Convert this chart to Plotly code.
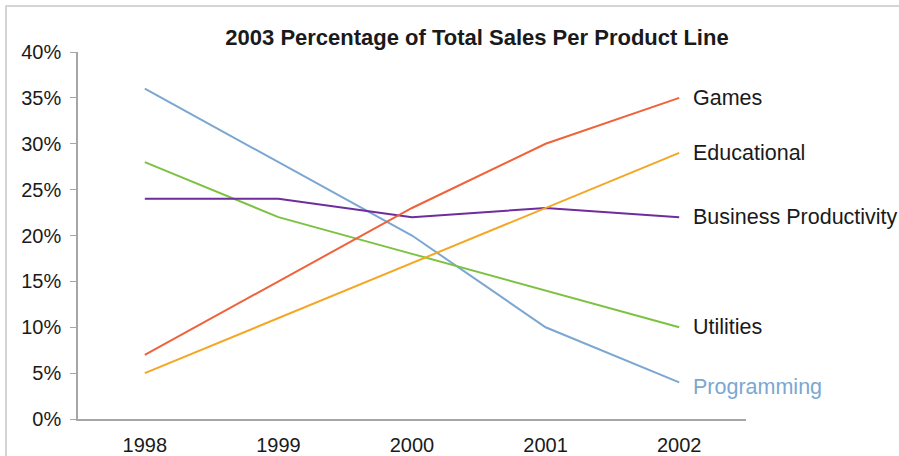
import plotly.graph_objects as go

years = ["1998", "1999", "2000", "2001", "2002"]
programming = [36, 28, 20, 10, 4]
games = [7, 15, 23, 30, 35]
educational = [5, 11, 17, 23, 29]
business = [24, 24, 22, 23, 22]
utilities = [28, 22, 18, 14, 10]

series = [
    ("Programming", programming, "#7ba7d2", "#7ba7d2", -5),
    ("Utilities", utilities, "#7cc242", "#1a1a1a", 0),
    ("Business Productivity", business, "#6e2d9c", "#1a1a1a", 0),
    ("Educational", educational, "#f5a623", "#1a1a1a", 0),
    ("Games", games, "#f0623a", "#1a1a1a", 0),
]

fig = go.Figure()
annotations = []
last = len(years) - 1
for name, vals, color, tcolor, ys in series:
    fig.add_trace(go.Scatter(x=years, y=vals, mode="lines", name=name,
                             line=dict(color=color, width=2)))
    annotations.append(dict(x=last, y=vals[-1], xref="x", yref="y",
                            text=name, showarrow=False, xanchor="left",
                            xshift=12, yshift=ys, font=dict(size=21.5, color=tcolor,
                            family="Liberation Sans, Arial, sans-serif")))

fig.update_layout(
    width=899, height=456,
    margin=dict(l=78, r=153, t=52, b=37, autoexpand=False),
    paper_bgcolor="white", plot_bgcolor="white",
    showlegend=False,
    font=dict(family="Liberation Sans, Arial, sans-serif", size=20, color="#1a1a1a"),
    title=dict(text="<b>2003 Percentage of Total Sales Per Product Line</b>",
               x=477 / 899, xanchor="center", y=1 - 37 / 456, yanchor="middle",
               font=dict(size=22, color="#1a1a1a")),
    annotations=annotations,
    shapes=[dict(type="rect", xref="paper", yref="paper",
                 x0=(6 - 78) / 668, x1=(910 - 78) / 668,
                 y0=(419 - 462) / 367, y1=(419 - 6) / 367,
                 line=dict(color="#c8c8c8", width=1.5), layer="below")],
)
fig.update_xaxes(type="category", range=[-0.5, 4.5], showline=True,
                 linecolor="#a6a6a6", linewidth=1.5, showgrid=False,
                 ticks="", tickfont=dict(size=20), zeroline=False,
                 automargin=False, ticklabelstandoff=7)
fig.update_yaxes(range=[0, 40], tickvals=[0, 5, 10, 15, 20, 25, 30, 35, 40],
                 ticktext=["0%", "5%", "10%", "15%", "20%", "25%", "30%", "35%", "40%"],
                 showline=True, linecolor="#a6a6a6", linewidth=1.5,
                 ticks="outside", ticklen=6, tickcolor="#a6a6a6",
                 showgrid=False, zeroline=False, tickfont=dict(size=20),
                 automargin=False, ticklabelstandoff=5)

fig.write_html("out.html")
